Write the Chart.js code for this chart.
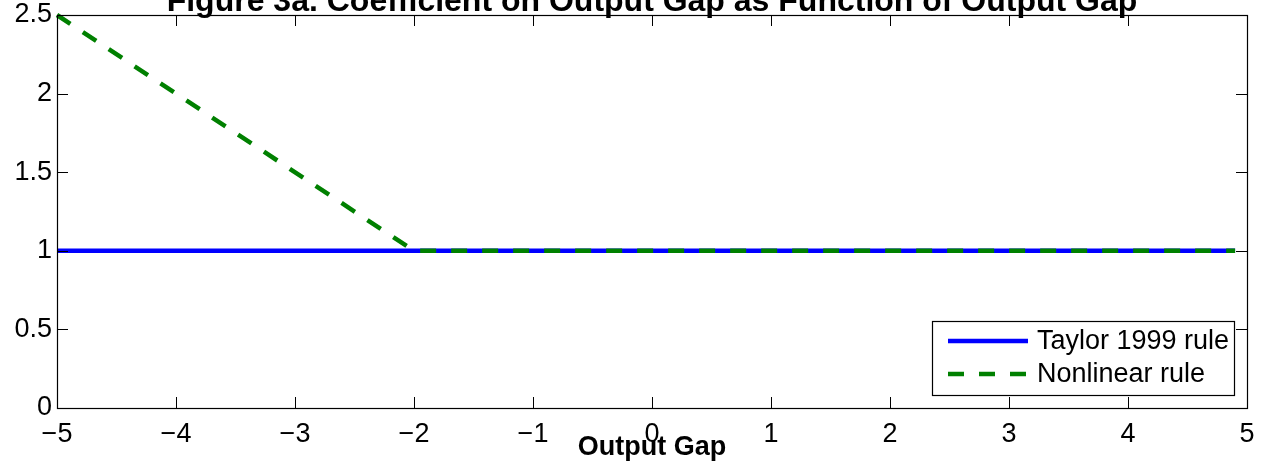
<!DOCTYPE html>
<html>
<head>
<meta charset="utf-8">
<script src="https://cdn.jsdelivr.net/npm/chart.js@4/dist/chart.umd.min.js"></script>
<style>
  html, body { margin: 0; padding: 0; background: #ffffff; }
  #wrap { width: 1266px; height: 465px; }
</style>
</head>
<body>
<div id="wrap"><canvas id="c" width="1266" height="465"></canvas></div>
<script>
// Output gap grid and the coefficient each rule puts on it
const gapValues = [-5, -2, 4.9];
const taylorCoef = [1, 1, 1];
const nonlinearCoef = [2.5, 1, 1];

const seriesNames = ['Taylor 1999 rule', 'Nonlinear rule'];
const titleText = 'Figure 3a. Coefficient on Output Gap as Function of Output Gap';
const xAxisLabel = 'Output Gap';

const FONT = '"Liberation Sans", Arial, Helvetica, sans-serif';
const BLUE = '#0000ff';
const GREEN = '#008000';

function toPoints(xs, ys) {
  return xs.map((x, i) => ({ x: x, y: ys[i] }));
}

// Box, inward ticks, title, axis label and legend in a MATLAB-like style
const framePlugin = {
  id: 'frame',
  afterDraw(chart) {
    const ctx = chart.ctx;
    const a = chart.chartArea;
    const xs = chart.scales.x;
    const ys = chart.scales.y;
    const tl = 11;
    ctx.save();
    ctx.strokeStyle = '#000000';
    ctx.lineWidth = 1;
    ctx.beginPath();
    xs.ticks.forEach(t => {
      const px = Math.round(xs.getPixelForValue(t.value)) + 0.5;
      ctx.moveTo(px, a.bottom); ctx.lineTo(px, a.bottom - tl);
      ctx.moveTo(px, a.top); ctx.lineTo(px, a.top + tl);
    });
    ys.ticks.forEach(t => {
      const py = Math.round(ys.getPixelForValue(t.value)) + 0.5;
      ctx.moveTo(a.left, py); ctx.lineTo(a.left + tl, py);
      ctx.moveTo(a.right, py); ctx.lineTo(a.right - tl, py);
    });
    ctx.stroke();
    ctx.lineWidth = 1.2;
    ctx.strokeRect(Math.round(a.left) + 0.5, Math.round(a.top) + 0.5,
                   Math.round(a.right - a.left), Math.round(a.bottom - a.top));

    // title (sits partly above the canvas edge)
    ctx.fillStyle = '#000000';
    ctx.font = 'bold 32px ' + FONT;
    ctx.textAlign = 'center';
    ctx.textBaseline = 'alphabetic';
    const cx = (a.left + a.right) / 2;
    ctx.fillText(titleText, cx, a.top - 4);

    // x axis label
    ctx.font = 'bold 27px ' + FONT;
    ctx.fillText(xAxisLabel, cx, a.bottom + 47);

    // legend
    const lx = 932, ly = 321, lw = 302, lh = 74;
    ctx.fillStyle = '#ffffff';
    ctx.fillRect(lx, ly, lw, lh);
    ctx.strokeStyle = '#000000';
    ctx.lineWidth = 1.2;
    ctx.strokeRect(lx + 0.5, ly + 0.5, lw, lh);
    const rows = [
      { ds: chart.data.datasets[0], y: ly + 20 },
      { ds: chart.data.datasets[1], y: ly + 53 }
    ];
    ctx.font = '27px ' + FONT;
    ctx.textAlign = 'left';
    ctx.textBaseline = 'middle';
    rows.forEach(r => {
      ctx.save();
      ctx.strokeStyle = r.ds.borderColor;
      ctx.lineWidth = r.ds.borderWidth;
      ctx.lineCap = 'butt';
      ctx.setLineDash(r.ds.borderDash || []);
      ctx.beginPath();
      ctx.moveTo(lx + 16, r.y);
      ctx.lineTo(lx + 96, r.y);
      ctx.stroke();
      ctx.restore();
      ctx.fillStyle = '#000000';
      ctx.fillText(r.ds.label, lx + 105, r.y + 1);
    });
    ctx.restore();
  }
};

new Chart(document.getElementById('c'), {
  type: 'line',
  data: {
    datasets: [
      {
        label: seriesNames[0],
        data: toPoints(gapValues, taylorCoef),
        borderColor: BLUE,
        backgroundColor: BLUE,
        borderWidth: 4.5,
        pointRadius: 0,
        tension: 0,
        order: 1,
        clip: false
      },
      {
        label: seriesNames[1],
        data: toPoints(gapValues, nonlinearCoef),
        borderColor: GREEN,
        backgroundColor: GREEN,
        borderWidth: 4.5,
        borderDash: [16, 15],
        borderCapStyle: 'butt',
        pointRadius: 0,
        tension: 0,
        order: 0,
        clip: false
      }
    ]
  },
  options: {
    responsive: false,
    animation: false,
    events: [],
    layout: { padding: { left: 0, right: 19, top: 15, bottom: 0 } },
    plugins: { legend: { display: false }, tooltip: { enabled: false }, title: { display: false } },
    scales: {
      x: {
        type: 'linear',
        min: -5, max: 5,
        grid: { display: false, drawTicks: false },
        border: { display: false },
        ticks: {
          stepSize: 1,
          color: '#000000',
          padding: 10,
          maxRotation: 0,
          font: { family: FONT, size: 27 },
          callback: v => String(v).replace('-', '\u2212')
        },
        afterFit(scale) {
          scale.height = 57;
          scale.paddingLeft = 0; scale.paddingRight = 0;
        }
      },
      y: {
        type: 'linear',
        min: 0, max: 2.5,
        grid: { display: false, drawTicks: false },
        border: { display: false },
        ticks: {
          stepSize: 0.5,
          color: '#000000',
          padding: 5,
          font: { family: FONT, size: 27 },
          callback: v => String(v)
        },
        afterFit(scale) {
          scale.width = 57;
          scale.paddingTop = 0; scale.paddingBottom = 0;
        }
      }
    }
  },
  plugins: [framePlugin]
});
</script>
</body>
</html>
